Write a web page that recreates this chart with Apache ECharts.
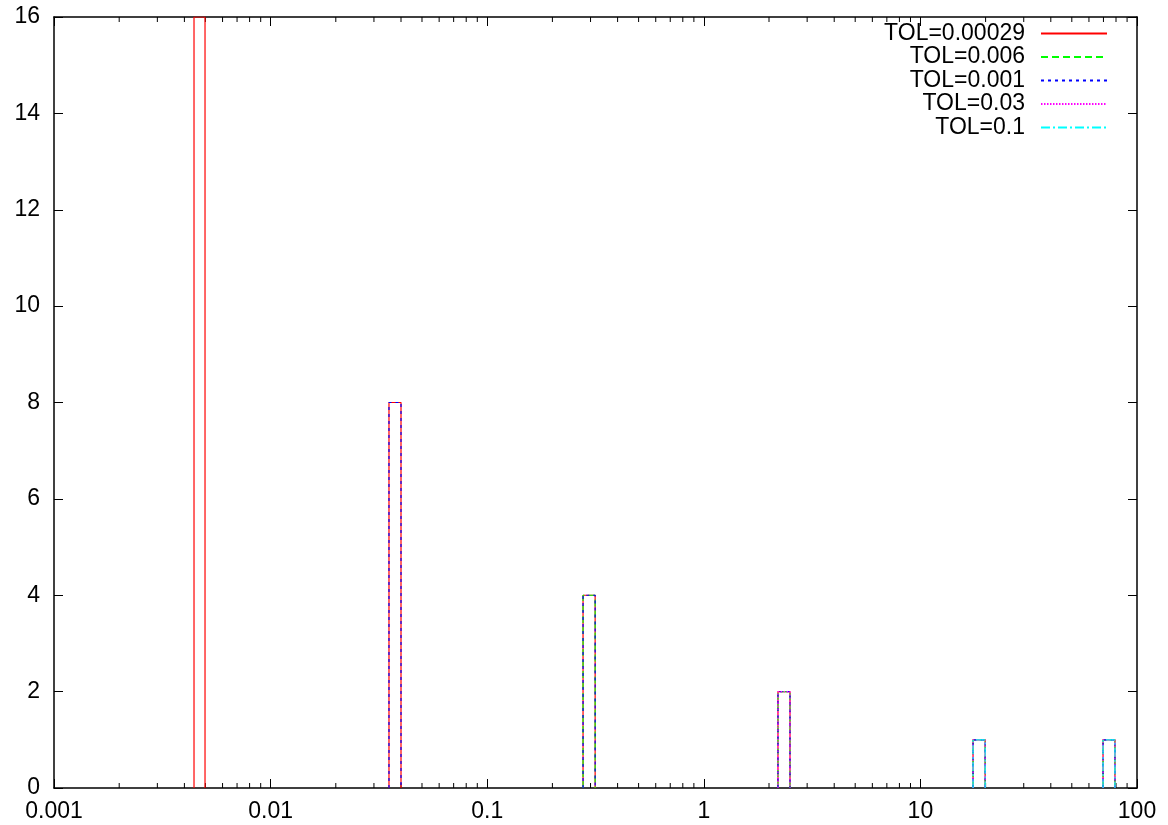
<!DOCTYPE html>
<html lang="en">
<head>
    <meta charset="UTF-8">
    <title>TOL histogram</title>
    <script src="https://cdn.jsdelivr.net/npm/echarts@6/dist/echarts.min.js"></script>
    <style>
        html, body { margin: 0; padding: 0; background: #fff; }
    </style>
</head>
<body>
    <div id="main" style="width: 1168px;height: 825px;"></div>

    <script type="text/javascript">
        // bin edges (log x) and counts per TOL setting
        var binLo = [0.00443, 0.0352, 0.277, 2.20, 17.5, 69.7];
        var binHi = [0.00498, 0.0400, 0.315, 2.50, 19.9, 79.1];

        var tolNames = ['TOL=0.00029', 'TOL=0.006', 'TOL=0.001', 'TOL=0.03', 'TOL=0.1'];
        var counts00029 = [16, 8, 4, 2, 1, 1];
        var counts006 = [null, null, 4, 2, 1, 1];
        var counts001 = [null, 8, 4, 2, 1, 1];
        var counts03 = [null, null, null, 2, 1, 1];
        var counts1 = [null, null, null, null, 1, 1];

        var xTickLabels = ['0.001', '0.01', '0.1', '1', '10', '100'];
        var minorTickValues = [];
        [0.001, 0.01, 0.1, 1, 10].forEach(function (d) {
            for (var k = 2; k <= 9; k++) minorTickValues.push(d * k);
        });

        var colors = ['#ff0000', '#00ff00', '#0000ff', '#ff00ff', '#00ffff'];
        var dashes = ['solid', [7, 4], [3, 4], [1.5, 1.5], [9, 3, 2, 3]];

        // outline each bin as a step: up, across, down
        function steps(counts) {
            var out = [];
            counts.forEach(function (c, i) {
                if (c == null) return;
                out.push([binLo[i], 0], [binLo[i], c], [binHi[i], c], [binHi[i], 0]);
                out.push(['-', '-']);
            });
            return out;
        }

        var allCounts = [counts00029, counts006, counts001, counts03, counts1];

        var myChart = echarts.init(document.getElementById('main'));

        var font = 'Liberation Sans, Arial, Helvetica, sans-serif';
        var fs = 23;
        var axisLine = { show: true, onZero: false, lineStyle: { color: '#000', width: 1.5 } };

        var series = allCounts.map(function (counts, i) {
            return {
                name: tolNames[i],
                type: 'line',
                symbol: 'none',
                showSymbol: false,
                connectNulls: false,
                animation: false,
                color: colors[i],
                lineStyle: { color: colors[i], width: 1.2, type: dashes[i] },
                data: steps(counts)
            };
        });

        // gnuplot style minor ticks on the log axis (bottom and top)
        series.push({
            type: 'custom',
            silent: true,
            animation: false,
            clip: false,
            data: minorTickValues.map(function (v) { return [v]; }),
            renderItem: function (params, api) {
                var lo = api.coord([api.value(0), 0]);
                var hi = api.coord([api.value(0), 16]);
                var st = { stroke: '#000', lineWidth: 1 };
                return {
                    type: 'group',
                    children: [
                        { type: 'line', shape: { x1: lo[0], y1: lo[1], x2: lo[0], y2: lo[1] - 5 }, style: st },
                        { type: 'line', shape: { x1: hi[0], y1: hi[1], x2: hi[0], y2: hi[1] + 5 }, style: st }
                    ]
                };
            }
        });

        var option = {
            backgroundColor: '#fff',
            animation: false,
            grid: { left: 54, right: 31, top: 17, bottom: 37, containLabel: false },
            legend: {
                data: tolNames,
                orient: 'vertical',
                right: 55,
                top: 17,
                align: 'right',
                itemWidth: 66,
                itemHeight: 14,
                itemGap: 0.5,
                itemStyle: { opacity: 0 },
                formatter: '{a|{name}}',
                textStyle: {
                    fontFamily: font,
                    fontSize: fs,
                    color: '#000',
                    rich: { a: { width: 150, align: 'right', fontSize: fs, lineHeight: 23, fontFamily: font, padding: [0, 11, 0, 0] } }
                }
            },
            xAxis: [{
                type: 'log',
                logBase: 10,
                min: 0.001,
                max: 100,
                axisLine: axisLine,
                axisTick: { inside: true, length: 9, lineStyle: { color: '#000', width: 1 } },
                splitLine: { show: false },
                axisLabel: {
                    margin: 12,
                    color: '#000',
                    fontFamily: font,
                    fontSize: fs,
                    formatter: function (v) {
                        var idx = Math.round(Math.log10(v)) + 3;
                        return xTickLabels[idx];
                    }
                }
            }, {
                type: 'log',
                logBase: 10,
                min: 0.001,
                max: 100,
                position: 'top',
                axisLine: axisLine,
                axisTick: { inside: true, length: 9, lineStyle: { color: '#000', width: 1 } },
                splitLine: { show: false },
                axisLabel: { show: false }
            }],
            yAxis: [{
                type: 'value',
                min: 0,
                max: 16,
                interval: 2,
                axisLine: axisLine,
                axisTick: { inside: true, length: 9, lineStyle: { color: '#000', width: 1 } },
                splitLine: { show: false },
                axisLabel: { margin: 14, color: '#000', fontFamily: font, fontSize: fs }
            }, {
                type: 'value',
                min: 0,
                max: 16,
                interval: 2,
                position: 'right',
                axisLine: axisLine,
                axisTick: { inside: true, length: 9, lineStyle: { color: '#000', width: 1 } },
                splitLine: { show: false },
                axisLabel: { show: false }
            }],
            series: series
        };

        myChart.setOption(option);
    </script>
</body>
</html>
